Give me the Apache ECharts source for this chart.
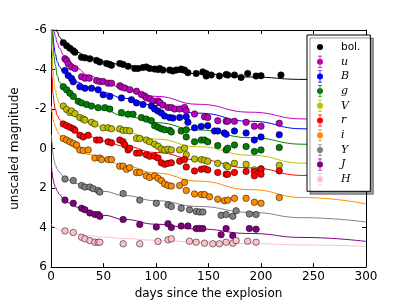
<!DOCTYPE html>
<html><head><meta charset="utf-8">
<script src="https://cdn.jsdelivr.net/npm/echarts@6/dist/echarts.min.js"></script>
<style>html,body{margin:0;padding:0;background:#fff}#c{width:407px;height:305px}</style>
</head><body><div id="c"></div>
<script>
// ---- data (days since explosion, unscaled magnitude) ----
const legendNames = ['bol.', 'u', 'B', 'g', 'V', 'r', 'i', 'Y', 'J', 'H'];
const xTicks = [0, 50, 100, 150, 200, 250, 300];
const yTicks = [-6, -4, -2, 0, 2, 4, 6];

const bolDays = [11.7,14.9,18.0,21.2,22.8,29.0,32.3,37.0,43.4,46.5,52.9,56.0,57.6,65.5,68.7,73.4,79.7,82.9,87.6,90.8,94.0,98.7,101.9,103.5,106.6,113.0,116.1,119.3,124.0,127.2,130.4,138.3,144.6,147.8,147.8,152.6,160.4,166.8,168.3,174.7,181.0,187.3,195.3,200.0,219.0];
const bolMag = [-5.36,-5.20,-5.08,-4.95,-4.87,-4.62,-4.59,-4.54,-4.46,-4.38,-4.30,-4.26,-4.21,-4.30,-4.26,-4.16,-4.05,-4.05,-4.10,-4.13,-4.05,-4.02,-4.00,-4.05,-3.97,-3.97,-3.93,-3.97,-4.02,-3.97,-3.84,-3.80,-3.88,-3.80,-3.67,-3.72,-3.67,-3.75,-3.72,-3.72,-3.60,-3.80,-3.67,-3.69,-3.72];

const uDays = [13.3,14.9,16.4,19.6,22.8,29.1,32.3,36.4,43.4,46.5,49.7,54.4,57.6,65.5,67.1,70.3,75.0,81.4,86.1,89.2,90.8,94.0,97.1,101.9,103.5,106.6,111.4,114.6,117.7,122.5,127.2,128.8,136.7,146.2,149.3,158.8,166.8,168.3,174.7,185.8,193.7,200.0,217.4];
const uMag = [-4.54,-4.46,-4.29,-4.13,-4.05,-3.64,-3.56,-3.56,-3.44,-3.39,-3.39,-3.31,-3.31,-3.18,-3.11,-3.06,-2.98,-2.90,-2.74,-2.66,-2.57,-2.52,-2.41,-2.41,-2.33,-2.20,-2.08,-2.08,-2.00,-2.00,-2.08,-1.92,-1.75,-1.61,-1.57,-1.41,-1.38,-1.38,-1.38,-1.33,-1.13,-1.13,-1.28];

const BDays = [13.3,16.4,19.6,21.2,27.5,32.3,38.6,44.9,49.7,56.0,67.1,76.6,81.4,87.6,95.6,98.7,101.9,105.1,108.2,113.0,116.1,122.5,128.8,130.4,136.7,143.1,149.3,155.7,158.8,165.1,166.8,174.7,185.8,193.7,200.0,217.4];
const BMag = [-3.95,-3.70,-3.54,-3.38,-3.13,-3.05,-3.05,-2.97,-2.72,-2.64,-2.56,-2.47,-2.31,-2.23,-2.15,-2.00,-1.90,-1.80,-1.65,-1.57,-1.54,-1.57,-1.61,-1.33,-1.05,-1.12,-1.16,-0.89,-0.89,-0.79,-0.72,-0.89,-0.79,-0.43,-0.59,-0.70];

const gDays = [11.7,14.9,18.0,21.2,25.9,29.1,33.9,38.6,44.9,51.3,56.0,67.1,73.4,78.1,86.1,90.8,95.6,98.7,101.9,105.1,108.2,113.0,114.6,124.0,128.8,128.8,136.7,143.1,146.2,149.3,158.8,166.8,168.3,174.7,185.8,193.7,200.0,217.4];
const gMag = [-3.13,-2.97,-2.80,-2.64,-2.39,-2.31,-2.23,-2.15,-2.07,-2.07,-2.00,-1.82,-1.74,-1.74,-1.57,-1.49,-1.41,-1.16,-1.08,-1.00,-0.95,-0.92,-0.84,-0.89,-0.95,-0.59,-0.34,-0.43,-0.43,-0.34,-0.15,0.07,-0.02,-0.18,-0.10,0.15,0.07,-0.05];

const VDays = [11.7,14.9,18.0,19.6,22.8,27.5,30.7,32.3,38.6,41.8,49.7,54.4,57.6,65.5,68.7,71.9,75.0,81.4,84.5,90.8,94.0,98.7,101.9,105.1,108.2,111.4,114.6,122.5,127.2,128.8,136.7,143.1,146.2,149.3,158.8,166.8,168.3,174.7,185.8,193.7,200.0,217.4];
const VMag = [-2.15,-1.98,-1.82,-1.90,-1.77,-1.57,-1.49,-1.44,-1.33,-1.24,-1.05,-1.05,-1.00,-1.00,-0.92,-0.92,-0.89,-0.51,-0.51,-0.43,-0.34,-0.22,-0.12,0.02,0.07,0.03,0.07,0.07,-0.02,0.31,0.53,0.56,0.59,0.64,0.75,0.85,0.92,0.75,0.80,1.08,1.02,0.85];

const rDays = [11.7,14.9,18.0,21.2,22.8,27.5,30.7,35.4,43.4,46.5,54.4,57.6,65.5,68.7,70.3,73.4,75.0,81.4,84.5,90.8,94.0,98.7,101.9,105.1,108.2,111.4,114.6,122.5,127.2,128.8,136.7,143.1,146.2,149.3,158.8,166.8,168.3,174.7,185.8,193.7,193.7,200.0,200.0,217.4];
const rMag = [-1.24,-1.16,-1.08,-1.00,-0.92,-0.67,-0.59,-0.67,-0.43,-0.43,-0.34,-0.29,-0.43,-0.34,-0.18,0.07,-0.02,0.23,0.23,0.31,0.39,0.39,0.48,0.72,0.80,0.75,0.72,0.64,0.56,0.93,1.13,1.05,1.02,1.08,1.21,1.30,1.30,1.21,1.16,1.16,1.38,1.05,1.30,1.13];

const iDays = [11.7,14.9,18.0,21.2,24.4,27.5,30.7,35.4,41.8,46.5,48.1,54.4,57.6,65.5,68.7,71.9,75.0,81.4,84.5,90.8,94.0,98.7,101.9,105.1,108.2,111.4,114.6,122.5,127.2,128.8,136.7,143.1,146.2,151.0,158.8,165.1,168.3,174.7,185.8,193.7,200.0,217.4];
const iMag = [-0.51,-0.43,-0.34,-0.26,-0.18,0.07,0.10,0.07,0.48,0.48,0.56,0.56,0.56,0.89,0.89,1.05,0.97,1.21,1.21,1.38,1.46,1.38,1.50,1.62,1.79,1.87,1.90,1.87,1.71,2.12,2.30,2.33,2.33,2.44,2.56,2.64,2.61,2.52,2.52,2.72,2.77,2.48];

const YDays = [13.3,21.2,29.1,32.3,37.0,40.2,44.9,46.5,68.7,84.5,100.3,111.4,114.6,124.0,131.9,138.3,141.5,144.6,162.0,166.8,173.1,176.3,188.9,195.3];
const YMag = [1.54,1.62,1.87,1.95,1.95,2.03,2.12,2.20,2.28,2.61,2.77,2.85,2.93,3.02,3.10,3.18,3.21,3.21,3.38,3.34,3.43,3.15,3.31,3.34];

const JDays = [13.3,21.2,29.1,32.3,37.0,41.8,44.9,46.5,68.7,84.5,100.3,111.4,114.6,124.0,130.4,138.3,141.5,144.6,162.0,166.8,173.1,188.9,195.3];
const JMag = [2.61,2.77,3.02,3.10,3.26,3.34,3.34,3.43,3.59,3.84,3.97,3.80,4.00,3.92,3.92,4.05,4.05,4.05,4.36,4.05,4.41,4.05,4.08];

const HDays = [13.3,21.2,29.1,32.3,37.0,41.8,44.9,46.5,68.7,84.5,101.9,111.4,114.6,131.9,138.3,146.2,154.1,160.4,166.8,173.1,176.3,187.3,195.3];
const HMag = [4.17,4.25,4.49,4.57,4.66,4.74,4.74,4.74,4.82,4.82,4.70,4.62,4.57,4.69,4.74,4.79,4.82,4.82,4.74,4.79,4.66,4.69,4.74];

// fitted curves at these days
const fitDays = [0.5,1,2,3,4,6,8,12,17,25,35,50,70,100,140,190,240,300];
const bolFit = [-7.80,-7.30,-6.80,-6.45,-6.20,-5.90,-5.65,-5.35,-5.12,-4.87,-4.65,-4.42,-4.21,-3.99,-3.79,-3.62,-3.50,-3.39];
const uFit = [-7.50,-6.90,-6.30,-5.94,-5.69,-5.34,-5.08,-4.72,-4.40,-4.05,-3.73,-3.38,-3.03,-2.64,-2.24,-1.84,-1.50,-1.22];
const BFit = [-7.50,-6.60,-5.70,-5.15,-4.80,-4.40,-4.15,-3.85,-3.62,-3.36,-3.11,-2.83,-2.54,-2.18,-1.79,-1.38,-1.00,-0.68];
const gFit = [-7.00,-6.10,-5.20,-4.65,-4.25,-3.68,-3.36,-3.05,-2.80,-2.51,-2.24,-1.95,-1.65,-1.31,-0.94,-0.55,-0.22,0.08];
const VFit = [-6.20,-5.00,-3.95,-3.35,-2.98,-2.55,-2.27,-2.00,-1.80,-1.57,-1.36,-1.10,-0.82,-0.48,-0.09,0.34,0.74,1.08];
const rFit = [-4.60,-3.60,-2.75,-2.30,-2.00,-1.68,-1.48,-1.22,-1.04,-0.82,-0.62,-0.38,-0.12,0.20,0.57,0.98,1.36,1.68];
const iFit = [-2.15,-1.85,-1.50,-1.28,-1.12,-0.88,-0.70,-0.45,-0.22,0.05,0.29,0.58,0.88,1.24,1.65,2.08,2.48,2.80];
const YFit = [-0.70,-0.30,0.30,0.62,0.82,1.05,1.20,1.42,1.59,1.78,1.96,2.17,2.38,2.64,2.93,3.23,3.50,3.72];
const JFit = [0.80,1.18,1.56,1.78,1.94,2.16,2.32,2.55,2.75,2.97,3.17,3.38,3.59,3.83,4.07,4.30,4.50,4.70];
const HFit = [3.82,3.86,3.92,3.96,4.00,4.06,4.11,4.18,4.25,4.33,4.40,4.48,4.56,4.64,4.73,4.81,4.88,4.95];

// ---- build chart ----
const zip = (a, b) => a.map((v, k) => [v, b[k]]);
const bands = [
  {name: 'bol.', days: bolDays, mag: bolMag, fit: bolFit, color: '#000000', line: '#000000'},
  {name: 'u', days: uDays, mag: uMag, fit: uFit, color: '#bf00bf', line: '#bf00bf'},
  {name: 'B', days: BDays, mag: BMag, fit: BFit, color: '#0000ff', line: '#0000ff'},
  {name: 'g', days: gDays, mag: gMag, fit: gFit, color: '#008000', line: '#008000'},
  {name: 'V', days: VDays, mag: VMag, fit: VFit, color: '#bfbf00', line: '#bfbf00'},
  {name: 'r', days: rDays, mag: rMag, fit: rFit, color: '#ff0000', line: '#ff0000'},
  {name: 'i', days: iDays, mag: iMag, fit: iFit, color: '#ff8c00', line: '#ff8c00'},
  {name: 'Y', days: YDays, mag: YMag, fit: YFit, color: '#808080', line: '#808080'},
  {name: 'J', days: JDays, mag: JMag, fit: JFit, color: '#800080', line: '#800080'},
  {name: 'H', days: HDays, mag: HMag, fit: HFit, color: '#ffc0cb', line: '#ffc0cb'}
];

const series = [];
bands.forEach(b => {
  series.push({
    name: b.name + ' fit', type: 'line', data: zip(fitDays, b.fit),
    showSymbol: false, smooth: 0.5, smoothMonotone: 'x', clip: true, z: 2,
    lineStyle: {color: b.line, width: 1}, itemStyle: {color: b.line}, silent: true
  });
});
bands.forEach(b => {
  series.push({
    name: b.name, type: 'scatter', data: zip(b.days, b.mag), symbolSize: 6.5, z: 3,
    itemStyle: {color: b.color, borderColor: '#000', borderWidth: 0.5, opacity: 1}
  });
});

// legend icons: 26x12 box, marker centred at x=10 (tiny invisible corners fix the box)
const PAD = 'M0,5.99H0.02V6.01H0Z M25.98,5.99H26V6.01H25.98Z ';
const ERR_ICON = 'path://' + PAD + 'M8,0H12V0.7H8Z M9.6,0.7H10.4V3.2H9.6Z M7,6A3,3 0 1 0 13,6A3,3 0 1 0 7,6Z M9.6,8.8H10.4V11.3H9.6Z M8,11.3H12V12H8Z';
const DOT_ICON = 'path://' + PAD + 'M10,0H10.02V0.02H10Z M7,6A3,3 0 1 0 13,6A3,3 0 1 0 7,6Z M10,11.98H10.02V12H10Z';

const legendData = legendNames.map((n, k) => k === 0
  ? {name: n, icon: DOT_ICON, textStyle: {fontFamily: 'DejaVu Sans', fontSize: 10.5}}
  : {name: n, icon: ERR_ICON, textStyle: {fontFamily: 'DejaVu Serif', fontStyle: 'italic', fontSize: 11}});

const axisCommon = {
  axisLine: {show: true, onZero: false, lineStyle: {color: '#000', width: 1}},
  axisTick: {show: true, inside: true, length: 4, lineStyle: {color: '#000', width: 1}},
  splitLine: {show: false}
};

const option = {
  animation: false,
  backgroundColor: '#ffffff',
  grid: {left: 51, right: 41, top: 30, bottom: 31, show: false},
  legend: {
    orient: 'vertical', left: 307, top: 35,
    data: legendData,
    itemWidth: 26, itemHeight: 12, itemGap: 2.7,
    padding: [6, 10, 6, 3],
    backgroundColor: '#ffffff', borderColor: '#000', borderWidth: 1,
    shadowColor: 'rgba(0,0,0,0.4)', shadowBlur: 0, shadowOffsetX: 3, shadowOffsetY: 3,
    itemStyle: {borderWidth: 0},
    textStyle: {color: '#000'}
  },
  xAxis: [
    Object.assign({}, axisCommon, {
      type: 'value', position: 'bottom', min: xTicks[0], max: xTicks[xTicks.length - 1], interval: 50,
      axisLabel: {color: '#000', fontSize: 12, fontFamily: 'DejaVu Sans', margin: 4},
      name: 'days since the explosion', nameLocation: 'middle', nameGap: 15,
      nameTextStyle: {color: '#000', fontSize: 12, fontFamily: 'DejaVu Sans'}
    }),
    Object.assign({}, axisCommon, {
      type: 'value', position: 'top', min: xTicks[0], max: xTicks[xTicks.length - 1], interval: 50,
      axisLabel: {show: false}
    })
  ],
  yAxis: [
    Object.assign({}, axisCommon, {
      type: 'value', position: 'left', inverse: true, min: yTicks[0], max: yTicks[yTicks.length - 1], interval: 2,
      axisLabel: {color: '#000', fontSize: 12, fontFamily: 'DejaVu Sans', margin: 4, formatter: v => String(v)},
      name: 'unscaled magnitude', nameLocation: 'middle', nameGap: 30, nameRotate: 90,
      nameTextStyle: {color: '#000', fontSize: 12, fontFamily: 'DejaVu Sans'}
    }),
    Object.assign({}, axisCommon, {
      type: 'value', position: 'right', inverse: true, min: yTicks[0], max: yTicks[yTicks.length - 1], interval: 2,
      axisLabel: {show: false}
    })
  ],
  series: series
};

const chart = echarts.init(document.getElementById('c'), null, {renderer: 'canvas'});
chart.setOption(option);
</script></body></html>
